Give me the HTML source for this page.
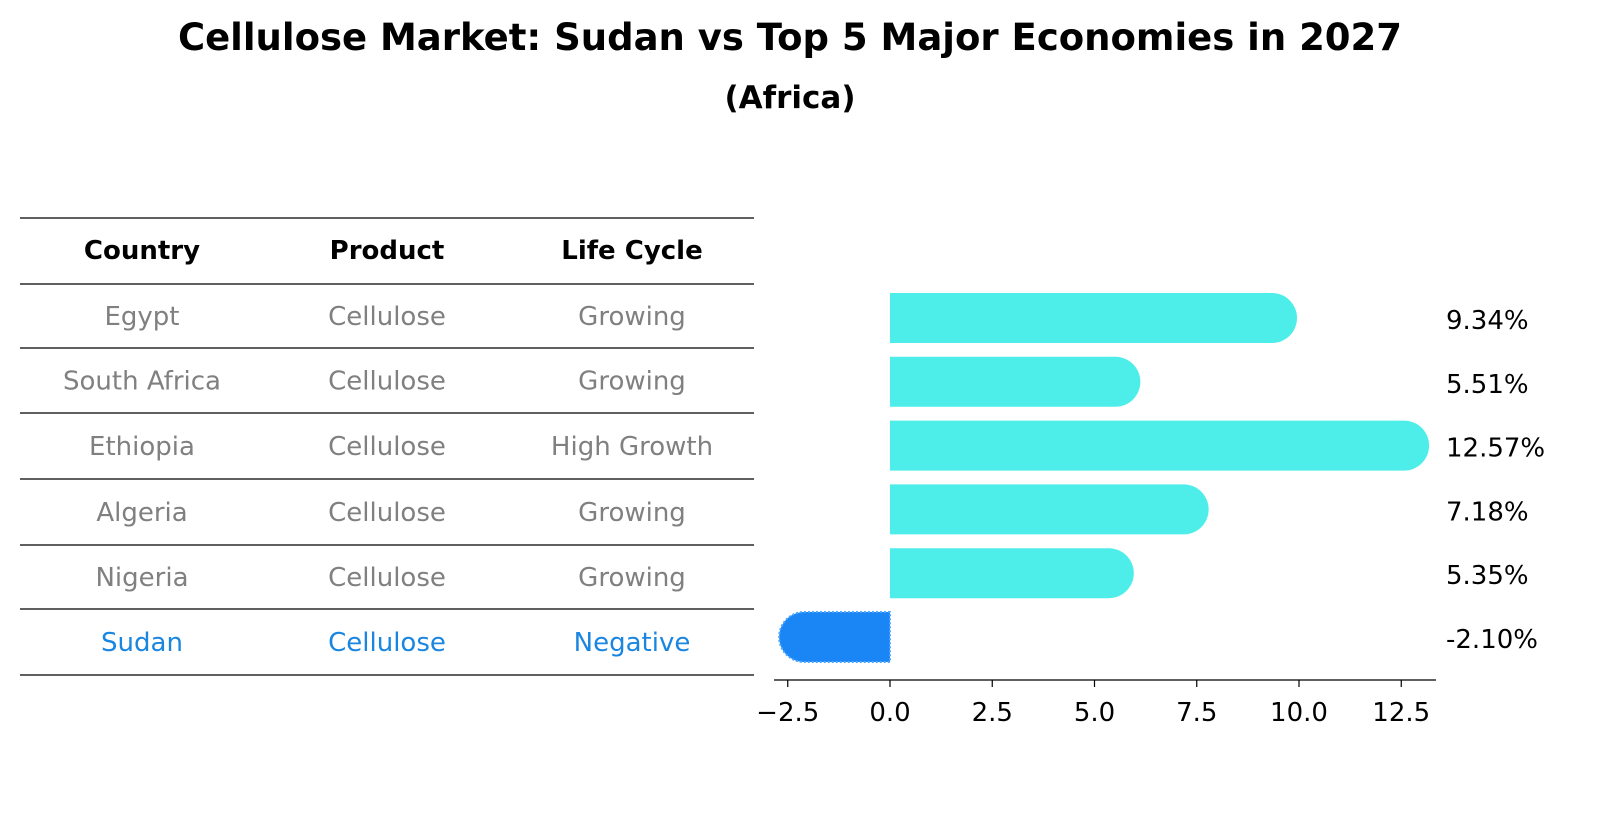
<!DOCTYPE html>
<html><head><meta charset="utf-8"><style>
body{margin:0;background:#fff;font-family:"DejaVu Sans","Liberation Sans",sans-serif;}
</style></head><body>
<svg width="1604" height="823" xmlns="http://www.w3.org/2000/svg" font-family="DejaVu Sans, Liberation Sans, sans-serif">
<text x="790" y="50" text-anchor="middle" font-size="37" font-weight="bold">Cellulose Market: Sudan vs Top 5 Major Economies in 2027</text>
<text x="790" y="108" text-anchor="middle" font-size="31" font-weight="bold">(Africa)</text>
<g id="table"></g>
<g id="bars"></g>
</svg>
<script>
const countries=["Egypt","South Africa","Ethiopia","Algeria","Nigeria","Sudan"];
const products=["Cellulose","Cellulose","Cellulose","Cellulose","Cellulose","Cellulose"];
const lifecycles=["Growing","Growing","High Growth","Growing","Growing","Negative"];
const values=[9.34,5.51,12.57,7.18,5.35,-2.10];
const ticks=[-2.5,0,2.5,5,7.5,10,12.5];
const NS="http://www.w3.org/2000/svg";
function mk(t,a,p){const e=document.createElementNS(NS,t);for(const k in a)e.setAttribute(k,a[k]);p.appendChild(e);return e;}
const tb=document.getElementById('table');
const lines=[218,284,348,413,479,545,609,675];
lines.forEach(y=>{const l=mk('line',{x1:20,x2:754,y1:y,y2:y,stroke:'#000','stroke-width':1.3},tb);

});
const cx=[142,387,632];
["Country","Product","Life Cycle"].forEach((h,i)=>{const t=mk('text',{x:cx[i],y:259,'text-anchor':'middle','font-size':26,'font-weight':'bold'},tb);t.textContent=h;

});
countries.forEach((c,r)=>{const y=(lines[r+1]+lines[r+2])/2+9;const col=r===countries.length-1?'#1a86e0':'#808080';
[c,products[r],lifecycles[r]].forEach((v,i)=>{const t=mk('text',{x:cx[i],y:y,'text-anchor':'middle','font-size':26,fill:col},tb);t.textContent=v;

});});
const g=document.getElementById('bars');
const x0=890,k=40.9;const X=v=>x0+v*k;
const yc=i=>318+i*63.8;const h=50,rr=25;
values.forEach((v,i)=>{const y=yc(i);let d;
const xe=X(v);
if(v>=0){d=`M${x0},${y-h/2}H${xe}A${rr},${rr} 0 0 1 ${xe},${y+h/2}H${x0}Z`;}
else{d=`M${x0},${y-h/2}H${xe}A${rr},${rr} 0 0 0 ${xe},${y+h/2}H${x0}Z`;}
const neg=v<0;
const p=mk('path',{d:d,fill:neg?'#1a86f5':'#4deeea',stroke:neg?'#4da6ff':'none','stroke-width':neg?2:0,'stroke-dasharray':neg?'2,2':''},g);


const t=mk('text',{x:1446,y:y+11,'font-size':26},g);t.textContent=v.toFixed(2)+'%';

});
const ax=mk('line',{x1:774,x2:1436,y1:680,y2:680,stroke:'#000','stroke-width':1.3},g);


ticks.forEach(v=>{const l=mk('line',{x1:X(v),x2:X(v),y1:680,y2:687,stroke:'#000','stroke-width':1.2},g);


const t=mk('text',{x:X(v),y:721,'text-anchor':'middle','font-size':26},g);t.textContent=v.toFixed(1).replace('-','−');

});
</script>
</body></html>
